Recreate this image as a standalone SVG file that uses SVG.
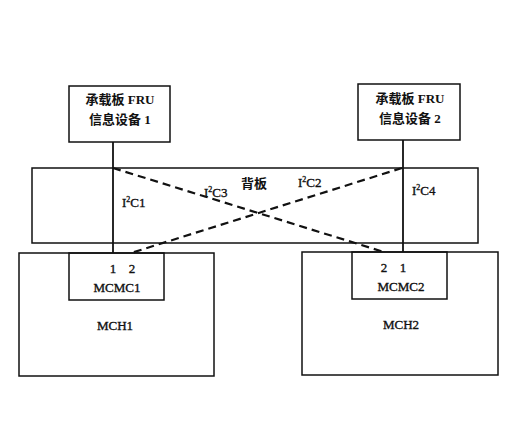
<svg xmlns="http://www.w3.org/2000/svg" width="516" height="445" viewBox="0 0 516 445">
<style>
.box{fill:none;stroke:#111;stroke-width:1.5}
.ln{stroke:#111;stroke-width:1.8;fill:none}
.dash{stroke:#111;stroke-width:2.2;stroke-dasharray:8,5;fill:none}
text{font-family:"Liberation Serif","Noto Sans CJK SC",serif;font-size:13px;fill:#111;stroke:#111;stroke-width:0.35;text-anchor:middle}
.cjk{font-weight:bold;stroke-width:0}
.l{text-anchor:start}
.sup{font-size:8px}
</style>
<rect width="516" height="445" fill="#fff"/>
<g id="backplane">
<rect class="box" x="32" y="168" width="446" height="75"/>
<text x="254" y="188" class="cjk" font-size="11">背板</text>
</g>
<g id="fru1">
<rect class="box" x="69" y="86" width="101" height="56"/>
<text x="120" y="104" class="cjk">承载板 FRU</text>
<text x="120" y="124" class="cjk">信息设备  1</text>
</g>
<g id="fru2">
<rect class="box" x="358" y="84" width="102" height="56"/>
<text x="410" y="103" class="cjk">承载板 FRU</text>
<text x="410" y="123" class="cjk">信息设备 2</text>
</g>
<g id="mch1">
<rect class="box" x="19" y="253" width="195" height="123"/>
<text x="115" y="330">MCH1</text>
</g>
<g id="mcmc1">
<rect class="box" x="69" y="253" width="95" height="47"/>
<text x="113" y="273">1</text>
<text x="132" y="273">2</text>
<text x="117" y="292">MCMC1</text>
</g>
<g id="mch2">
<rect class="box" x="302" y="252" width="196" height="123"/>
<text x="401" y="329">MCH2</text>
</g>
<g id="mcmc2">
<rect class="box" x="352" y="252" width="95" height="47"/>
<text x="384" y="272">2</text>
<text x="403" y="272">1</text>
<text x="401" y="291">MCMC2</text>
</g>
<g id="connectors">
<line class="ln" x1="113" y1="142" x2="113" y2="253"/>
<line class="ln" x1="403" y1="140" x2="403" y2="252"/>
<line class="dash" x1="113" y1="168" x2="384" y2="252"/>
<line class="dash" x1="402" y1="168" x2="131" y2="253"/>
<text class="l" x="122" y="207">I<tspan class="sup" dy="-5">2</tspan><tspan dy="5">C1</tspan></text>
<text class="l" x="204" y="197">I<tspan class="sup" dy="-5">2</tspan><tspan dy="5">C3</tspan></text>
<text class="l" x="298" y="187">I<tspan class="sup" dy="-5">2</tspan><tspan dy="5">C2</tspan></text>
<text class="l" x="412" y="195">I<tspan class="sup" dy="-5">2</tspan><tspan dy="5">C4</tspan></text>
</g>
</svg>
